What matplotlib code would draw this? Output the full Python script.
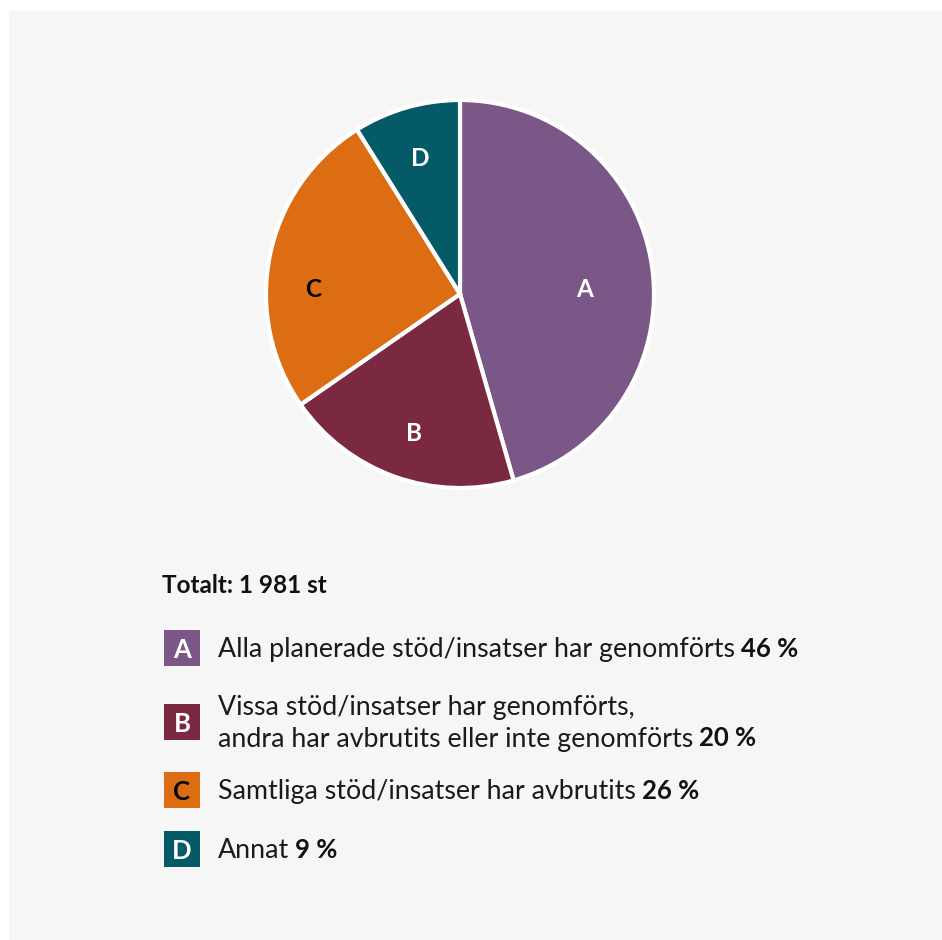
import numpy as np
import matplotlib
matplotlib.use("Agg")
import matplotlib.pyplot as plt
from matplotlib.patches import Rectangle

plt.rcParams['font.family'] = ['Lato', 'DejaVu Sans']

categories = ["A", "B", "C", "D"]
values = [46, 20, 26, 9]
colors = ["#7B5787", "#7B2940", "#DC6D12", "#055A68"]
letter_colors = ["white", "white", "black", "white"]
legend_texts = [
    ["Alla planerade stöd/insatser har genomförts"],
    ["Vissa stöd/insatser har genomförts,", "andra har avbrutits eller inte genomförts"],
    ["Samtliga stöd/insatser har avbrutits"],
    ["Annat"],
]
total_text = "Totalt: 1 981 st"
label_dist = [0.645, 0.75, 0.76, 0.735]
label_shift_deg = [-5, 1, 9, 0]

W, H = 942, 940
fig = plt.figure(figsize=(W / 100, H / 100), dpi=100)
fig.patch.set_facecolor("white")
fig.add_artist(Rectangle((9 / W, 0), 1 - 9 / W, 1 - 11 / H, transform=fig.transFigure,
                         facecolor="#F6F6F6", edgecolor="none", zorder=0))

def fx(x):
    return x / W

def fy(y):
    return 1 - y / H

cx, cy, R = 460, 294, 194
ax = fig.add_axes([fx(cx - R), fy(cy + R), 2 * R / W, 2 * R / H])
ax.set_facecolor("none")
wedges, _ = ax.pie(values, colors=colors, startangle=90, counterclock=False, radius=1,
                   wedgeprops=dict(edgecolor="#F6F6F6", linewidth=3.0, clip_on=False))
for w in wedges:
    w.set_edgecolor("white")
ax.set_xlim(-1, 1)
ax.set_ylim(-1, 1)
ax.set_aspect("equal")
ax.axis("off")

for w, lab, lc, d, s in zip(wedges, categories, letter_colors, label_dist, label_shift_deg):
    mid = np.deg2rad((w.theta1 + w.theta2) / 2 + s)
    ax.text(d * np.cos(mid), d * np.sin(mid), lab, ha="center", va="center_baseline",
            fontsize=17.5, fontweight="bold", color=lc)

# Total
fig.text(fx(162), fy(593), total_text, fontsize=17.5, fontweight="bold", color="#111111",
         ha="left", va="baseline")

# Legend
sq_centers = [648, 721.5, 790, 849]
sq = 36
line_gap = 32
for lab, col, lc, lines, c, v in zip(categories, colors, letter_colors, legend_texts, sq_centers, values):
    fig.add_artist(Rectangle((fx(164), fy(c + sq / 2)), sq / W, sq / H, transform=fig.transFigure,
                             facecolor=col, edgecolor="none"))
    fig.text(fx(164 + sq / 2), fy(c), lab, ha="center", va="center_baseline", fontsize=18.5,
             fontweight="bold", color=lc)
    n = len(lines)
    first_base = c + 9 - (n - 1) * line_gap / 2
    for i, ln in enumerate(lines):
        yb = first_base + i * line_gap
        t = fig.text(fx(218), fy(yb), ln, ha="left", va="baseline", fontsize=19.3, color="#1a1a1a")
        if i == n - 1:
            fig.canvas.draw()
            bb = t.get_window_extent()
            fig.text(bb.x1 / W + 6 / W, fy(yb), f"{v} %", ha="left", va="baseline", fontsize=18.5,
                     fontweight="bold", color="#111111")

fig.savefig("out.png", dpi=100, facecolor=fig.get_facecolor())
